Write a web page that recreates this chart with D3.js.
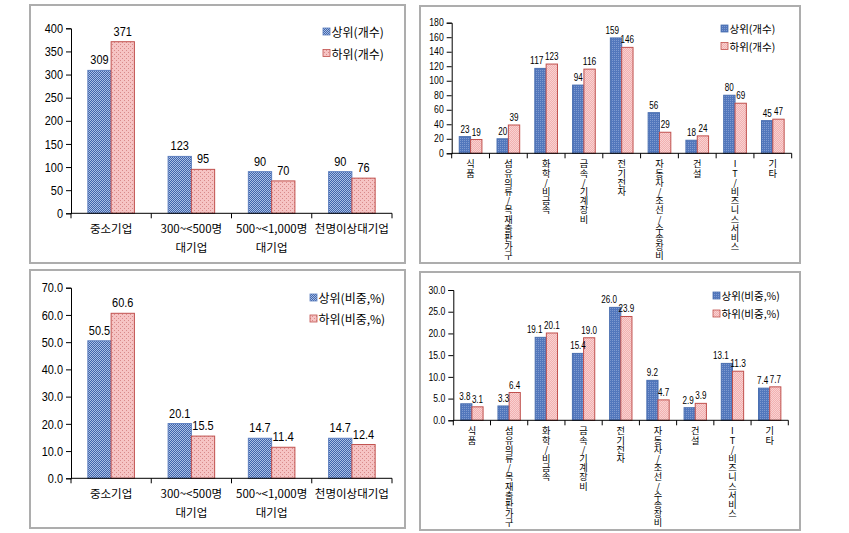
<!DOCTYPE html>
<html><head><meta charset="utf-8">
<script src="https://cdn.jsdelivr.net/npm/d3@7"></script>
<style>
html,body{margin:0;padding:0;background:#fff;}
svg{display:block;}
.vt{writing-mode:vertical-rl;text-orientation:upright;}
</style></head>
<body>
<svg id="c" width="849" height="533"></svg>
<script>
// ---- data ----
const sizeCats = ["중소기업", "300~<500명\n대기업", "500~<1,000명\n대기업", "천명이상대기업"];
const sizeUpperCount = [309, 123, 90, 90];
const sizeLowerCount = [371, 95, 70, 76];
const sizeUpperPct = [50.5, 20.1, 14.7, 14.7];
const sizeLowerPct = [60.6, 15.5, 11.4, 12.4];

const indCats = ["식품", "섬유의류/목재출판가구", "화학/비금속", "금속/기계장비", "전기전자", "자동차/조선/수송장비", "건설", "IT/비즈니스서비스", "기타"];
const indUpperCount = [23, 20, 117, 94, 159, 56, 18, 80, 45];
const indLowerCount = [19, 39, 123, 116, 146, 29, 24, 69, 47];
const indUpperPct = [3.8, 3.3, 19.1, 15.4, 26.0, 9.2, 2.9, 13.1, 7.4];
const indLowerPct = [3.1, 6.4, 20.1, 19.0, 23.9, 4.7, 3.9, 11.3, 7.7];

const legendCount = ["상위(개수)", "하위(개수)"];
const legendPct = ["상위(비중,%)", "하위(비중,%)"];

const svg = d3.select("#c");
const NUM = "'Liberation Sans','Noto Sans CJK KR',sans-serif";
const KR = "'Noto Sans CJK KR','Liberation Sans',sans-serif";

// ---- patterns ----
const defs = svg.append("defs");
function pat(id, size, bg, dots, dotColor) {
  const p = defs.append("pattern").attr("id", id).attr("patternUnits", "userSpaceOnUse")
    .attr("width", size).attr("height", size);
  p.append("rect").attr("width", size).attr("height", size).attr("fill", bg);
  dots.forEach(([x, y]) => p.append("rect").attr("x", x).attr("y", y).attr("width", 1).attr("height", 1).attr("fill", dotColor));
}
pat("blueL", 2, "#4065ab", [[0, 0], [1, 1]], "#a9bfe6");
pat("pinkL", 4, "#f6c4c4", [[0, 0], [2, 2]], "#d98a8a");
pat("blueR", 2, "#5277bc", [[0, 0]], "#7e9ad0");
pat("pinkR", 2, "#f2b0b0", [[0, 0], [1, 1]], "#f8d2d2");

// estimated rendered width of a numeric label (narrow digits)
function numW(s, dw, pw) { let w = 0; for (const ch of s) w += (ch === "." ? pw : dw); return w; }

// ---- panel drawer ----
function panel(o) {
  const g = svg.append("g");
  g.append("rect").attr("x", o.frame[0]).attr("y", o.frame[1])
    .attr("width", o.frame[2] - o.frame[0]).attr("height", o.frame[3] - o.frame[1])
    .attr("fill", "#fff").attr("stroke", "#adadad").attr("stroke-width", 2);

  const y = d3.scaleLinear().domain(o.domain).range([o.y0, o.yTop]);
  const x = d3.scaleBand().domain(o.cats).range([o.x0, o.x1]);
  const bw = x.bandwidth() * o.barFrac;
  const fmt = d3.format(o.fmt);

  // y axis
  const ya = g.append("g").attr("transform", `translate(${o.x0},0)`)
    .call(d3.axisLeft(y).tickValues(d3.range(o.domain[0], o.domain[1] + 1e-9, o.step))
      .tickFormat(fmt).tickSize(5).tickPadding(3));
  ya.select(".domain").attr("stroke", "#000");
  ya.selectAll("line").attr("stroke", "#000");
  ya.selectAll("text").attr("font-family", NUM).attr("font-size", o.tickFont).attr("fill", "#000")
    .each(function () { const s = this.textContent; d3.select(this).attr("textLength", numW(s, o.tickDW, o.tickPW)).attr("lengthAdjust", "spacingAndGlyphs"); });

  // bars
  const series = [
    { vals: o.upper, fill: o.patU, stroke: o.strokeU, off: -bw },
    { vals: o.lower, fill: o.patL, stroke: o.strokeL, off: 0 }
  ];
  series.forEach(s => {
    g.selectAll(null).data(o.cats).enter().append("rect")
      .attr("x", (d) => x(d) + x.bandwidth() / 2 + s.off)
      .attr("y", (d, i) => y(s.vals[i]))
      .attr("width", bw)
      .attr("height", (d, i) => o.y0 - y(s.vals[i]))
      .attr("fill", `url(#${s.fill})`).attr("stroke", s.stroke).attr("stroke-width", 1);
  });
  o.cats.forEach((c, i) => {
    const su = fmt(o.upper[i]), sl = fmt(o.lower[i]);
    const wu = numW(su, o.valDW, o.valPW), wl = numW(sl, o.valDW, o.valPW);
    const cu = x(c) + x.bandwidth() / 2 - bw / 2, cl = x(c) + x.bandwidth() / 2 + bw / 2;
    // shift the upper label left if it would collide with the lower one
    const need = (wu + wl) / 2 + o.valGap - (cl - cu);
    const yu = y(o.upper[i]) - o.labelGap, yl = y(o.lower[i]) - o.labelGap;
    const collide = need > 0 && Math.abs(yu - yl) < o.valFont;
    [[su, wu, collide ? cu - need : cu, yu], [sl, wl, cl, yl]].forEach(([t, w, xx, yy]) => {
      g.append("text").attr("x", xx).attr("y", yy).attr("text-anchor", "middle")
        .attr("font-family", NUM).attr("font-size", o.valFont).attr("fill", "#000")
        .attr("textLength", w).attr("lengthAdjust", "spacingAndGlyphs").text(t);
    });
  });

  // x axis
  const xa = g.append("g").attr("transform", `translate(0,${o.y0})`);
  xa.append("line").attr("x1", o.x0).attr("x2", o.x1).attr("stroke", "#000");
  const bounds = o.cats.map(c => x(c)).concat([o.x1]);
  xa.selectAll(null).data(bounds).enter().append("line")
    .attr("x1", d => d).attr("x2", d => d).attr("y1", 0).attr("y2", 5).attr("stroke", "#000");

  // category labels
  o.cats.forEach(c => {
    const cx = x(c) + x.bandwidth() / 2;
    if (o.vertical) {
      g.append("text").attr("class", "vt").attr("x", cx).attr("y", o.y0 + o.vStart)
        .attr("font-family", KR).attr("font-size", o.catFont).attr("fill", "#000").text(c);
    } else {
      c.split("\n").forEach((line, li) => {
        g.append("text").attr("x", cx).attr("y", o.y0 + o.catTop + li * o.catLine)
          .attr("text-anchor", "middle").attr("font-family", KR)
          .attr("font-size", o.catFont).attr("fill", "#000").text(line);
      });
    }
  });

  // legend
  o.legend.forEach((lab, i) => {
    const ly = o.legY[i];
    g.append("rect").attr("x", o.legX).attr("y", ly - o.legSq / 2).attr("width", o.legSq).attr("height", o.legSq)
      .attr("fill", `url(#${i ? o.patL : o.patU})`).attr("stroke", i ? o.strokeL : o.strokeU).attr("stroke-width", 0.8);
    g.append("text").attr("x", o.legX + o.legSq + 1.5).attr("y", ly).attr("dominant-baseline", "central")
      .attr("font-family", KR).attr("font-size", o.legFont).attr("fill", "#000").text(lab);
  });
}

const leftCommon = {
  cats: sizeCats, x0: 71, x1: 392, barFrac: 0.29, tickFont: 13, tickDW: 6.1, tickPW: 3,
  valFont: 13, valDW: 6.1, valPW: 3, valGap: 2, labelGap: 6,
  catFont: 11.5, catTop: 20, catLine: 19, patU: "blueL", patL: "pinkL",
  strokeU: "#5d7fbf", strokeL: "#c0504d", legSq: 7, legFont: 12
};
panel(Object.assign({}, leftCommon, {
  frame: [30, 5, 405, 263], y0: 213.3, yTop: 28.3, domain: [0, 400], step: 50, fmt: "d",
  upper: sizeUpperCount, lower: sizeLowerCount, legend: legendCount, legX: 323, legY: [31.5, 53]
}));
panel(Object.assign({}, leftCommon, {
  frame: [30, 270, 405, 528], y0: 478.3, yTop: 287.7, domain: [0, 70], step: 10, fmt: ".1f",
  upper: sizeUpperPct, lower: sizeLowerPct, legend: legendPct, legX: 310, legY: [297.5, 318.5]
}));

const rightCommon = {
  cats: indCats, barFrac: 0.30, tickFont: 10, tickDW: 4.8, tickPW: 2.4,
  valFont: 10, valDW: 4.5, valPW: 2.2, valGap: 1.5, labelGap: 4,
  catFont: 9.2, vertical: true, vStart: 6, patU: "blueR", patL: "pinkR",
  strokeU: "#4a6fb0", strokeL: "#c0504d", legSq: 7, legFont: 10.5
};
panel(Object.assign({}, rightCommon, {
  frame: [420, 6, 800, 263], x0: 451.7, x1: 791.7, y0: 153.3, yTop: 22.7, domain: [0, 180], step: 20, fmt: "d",
  upper: indUpperCount, lower: indLowerCount, legend: legendCount, legX: 721, legY: [28.5, 46]
}));
panel(Object.assign({}, rightCommon, {
  frame: [420, 272, 800, 530], x0: 453.3, x1: 788.3, y0: 420.3, yTop: 290, domain: [0, 30], step: 5, fmt: ".1f",
  upper: indUpperPct, lower: indLowerPct, legend: legendPct, legX: 713, legY: [295.5, 313.5]
}));
</script>
</body></html>
